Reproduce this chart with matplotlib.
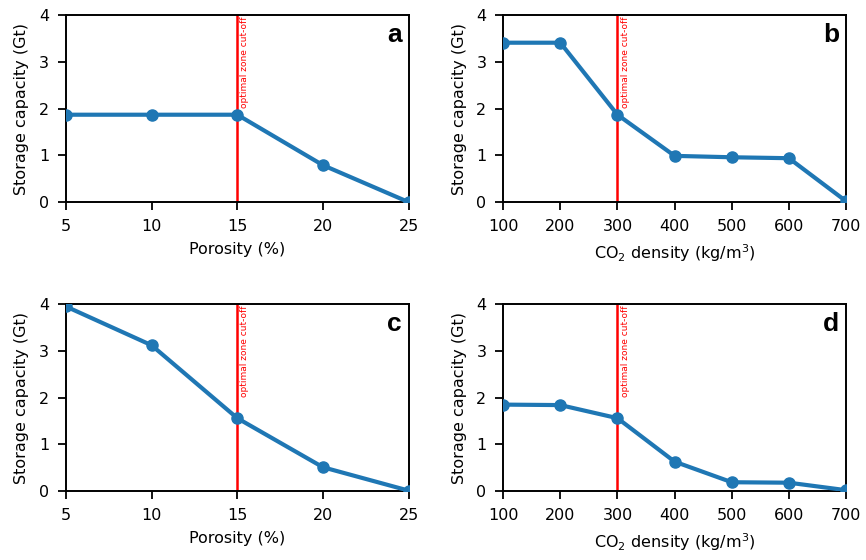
import matplotlib
matplotlib.use("Agg")
import matplotlib.pyplot as plt

# storage capacity vs porosity and CO2 density
porosity = [5, 10, 15, 20, 25]
density = [100, 200, 300, 400, 500, 600, 700]

cap_a = [1.87, 1.87, 1.87, 0.79, 0.0]
cap_b = [3.41, 3.41, 1.87, 0.99, 0.96, 0.94, 0.02]
cap_c = [3.95, 3.12, 1.56, 0.51, 0.01]
cap_d = [1.85, 1.84, 1.56, 0.63, 0.19, 0.18, 0.02]

cutoff_por = 15
cutoff_den = 300

fig = plt.figure(figsize=(8.66, 5.6), dpi=100)

w, h = 0.396, 0.334
ax_a = fig.add_axes([0.076, 0.639, w, h])
ax_b = fig.add_axes([0.581, 0.639, w, h])
ax_c = fig.add_axes([0.076, 0.123, w, h])
ax_d = fig.add_axes([0.581, 0.123, w, h])

panels = [
    (ax_a, porosity, cap_a, cutoff_por, 'Porosity (%)', 'a'),
    (ax_b, density, cap_b, cutoff_den, 'CO$_2$ density (kg/m$^3$)', 'b'),
    (ax_c, porosity, cap_c, cutoff_por, 'Porosity (%)', 'c'),
    (ax_d, density, cap_d, cutoff_den, 'CO$_2$ density (kg/m$^3$)', 'd'),
]

for ax, x, y, cut, xlab, letter in panels:
    ax.axvline(cut, color='red', lw=1.8, zorder=1)
    ax.plot(x, y, '-o', color='#1f77b4', lw=3, ms=8, zorder=3)
    ax.set_xlim(x[0], x[-1])
    ax.set_ylim(0, 4)
    ax.set_xticks(x)
    ax.set_yticks([0, 1, 2, 3, 4])
    ax.tick_params(labelsize=11.5, width=1.3, length=6, pad=6)
    for s in ax.spines.values():
        s.set_linewidth(1.4)
    ax.set_xlabel(xlab, fontsize=11.5, labelpad=6)
    ax.set_ylabel('Storage capacity (Gt)', fontsize=11.5, labelpad=7)
    span = x[-1] - x[0]
    ax.text(cut + span * 0.009, 3.98, 'optimal zone cut-off', rotation=90,
            color='red', fontsize=6.5, ha='left', va='top')
    ax.text(0.98, 0.96, letter, transform=ax.transAxes, ha='right', va='top',
            fontsize=19, fontweight='bold', family='Liberation Sans')

fig.savefig('out.png', dpi=100)
